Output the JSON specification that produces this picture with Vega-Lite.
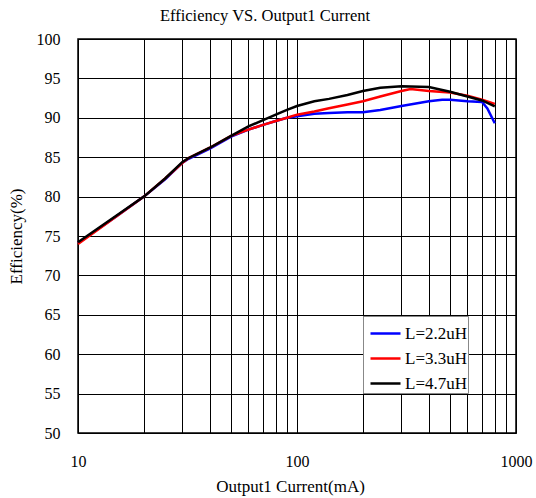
{
  "$schema": "https://vega.github.io/schema/vega-lite/v6.json",
  "width": 438,
  "height": 394,
  "autosize": {"type": "none"},
  "padding": {"left": 78, "top": 39, "right": 20, "bottom": 65},
  "background": "white",
  "title": {"text": "Efficiency VS. Output1 Current", "font": "Liberation Serif", "fontSize": 16.5, "fontWeight": "normal", "color": "black", "offset": 7, "dx": -32},
  "config": {
    "font": "Liberation Serif",
    "view": {"stroke": "black", "strokeWidth": 1.5},
    "axis": {"labelFont": "Liberation Serif", "titleFont": "Liberation Serif", "labelColor": "black", "titleColor": "black", "labelFontSize": 16, "titleFontSize": 17, "titleFontWeight": "normal", "gridColor": "black", "gridOpacity": 1, "gridWidth": 1, "domain": false, "ticks": false, "labelFlush": false},
    "axisX": {"labelFont": "Liberation Serif"},
    "axisY": {"labelFont": "Liberation Serif"},
    "axisQuantitative": {"labelFont": "Liberation Serif"}
  },
  "data": {"values": [
    {"current": 10, "eff": 74.1, "series": "L=2.2uH"},
    {"current": 15, "eff": 77.5, "series": "L=2.2uH"},
    {"current": 20, "eff": 80.0, "series": "L=2.2uH"},
    {"current": 25, "eff": 82.2, "series": "L=2.2uH"},
    {"current": 30, "eff": 84.3, "series": "L=2.2uH"},
    {"current": 32, "eff": 84.8, "series": "L=2.2uH"},
    {"current": 40, "eff": 86.1, "series": "L=2.2uH"},
    {"current": 50, "eff": 87.6, "series": "L=2.2uH"},
    {"current": 60, "eff": 88.5, "series": "L=2.2uH"},
    {"current": 70, "eff": 89.1, "series": "L=2.2uH"},
    {"current": 80, "eff": 89.6, "series": "L=2.2uH"},
    {"current": 90, "eff": 90.0, "series": "L=2.2uH"},
    {"current": 100, "eff": 90.2, "series": "L=2.2uH"},
    {"current": 120, "eff": 90.5, "series": "L=2.2uH"},
    {"current": 140, "eff": 90.6, "series": "L=2.2uH"},
    {"current": 170, "eff": 90.7, "series": "L=2.2uH"},
    {"current": 200, "eff": 90.7, "series": "L=2.2uH"},
    {"current": 240, "eff": 91.0, "series": "L=2.2uH"},
    {"current": 300, "eff": 91.5, "series": "L=2.2uH"},
    {"current": 400, "eff": 92.1, "series": "L=2.2uH"},
    {"current": 460, "eff": 92.3, "series": "L=2.2uH"},
    {"current": 500, "eff": 92.3, "series": "L=2.2uH"},
    {"current": 600, "eff": 92.1, "series": "L=2.2uH"},
    {"current": 700, "eff": 92.0, "series": "L=2.2uH"},
    {"current": 740, "eff": 91.2, "series": "L=2.2uH"},
    {"current": 800, "eff": 89.3, "series": "L=2.2uH"},
    {"current": 10, "eff": 74.0, "series": "L=3.3uH"},
    {"current": 15, "eff": 77.5, "series": "L=3.3uH"},
    {"current": 20, "eff": 80.0, "series": "L=3.3uH"},
    {"current": 25, "eff": 82.3, "series": "L=3.3uH"},
    {"current": 30, "eff": 84.3, "series": "L=3.3uH"},
    {"current": 32, "eff": 84.9, "series": "L=3.3uH"},
    {"current": 40, "eff": 86.2, "series": "L=3.3uH"},
    {"current": 50, "eff": 87.7, "series": "L=3.3uH"},
    {"current": 60, "eff": 88.5, "series": "L=3.3uH"},
    {"current": 70, "eff": 89.1, "series": "L=3.3uH"},
    {"current": 80, "eff": 89.6, "series": "L=3.3uH"},
    {"current": 90, "eff": 90.0, "series": "L=3.3uH"},
    {"current": 100, "eff": 90.4, "series": "L=3.3uH"},
    {"current": 120, "eff": 90.8, "series": "L=3.3uH"},
    {"current": 140, "eff": 91.2, "series": "L=3.3uH"},
    {"current": 170, "eff": 91.7, "series": "L=3.3uH"},
    {"current": 200, "eff": 92.1, "series": "L=3.3uH"},
    {"current": 240, "eff": 92.7, "series": "L=3.3uH"},
    {"current": 300, "eff": 93.4, "series": "L=3.3uH"},
    {"current": 330, "eff": 93.65, "series": "L=3.3uH"},
    {"current": 400, "eff": 93.4, "series": "L=3.3uH"},
    {"current": 500, "eff": 93.2, "series": "L=3.3uH"},
    {"current": 600, "eff": 92.8, "series": "L=3.3uH"},
    {"current": 700, "eff": 92.3, "series": "L=3.3uH"},
    {"current": 800, "eff": 91.75, "series": "L=3.3uH"},
    {"current": 10, "eff": 74.2, "series": "L=4.7uH"},
    {"current": 15, "eff": 77.6, "series": "L=4.7uH"},
    {"current": 20, "eff": 80.0, "series": "L=4.7uH"},
    {"current": 25, "eff": 82.3, "series": "L=4.7uH"},
    {"current": 30, "eff": 84.4, "series": "L=4.7uH"},
    {"current": 32, "eff": 84.9, "series": "L=4.7uH"},
    {"current": 40, "eff": 86.2, "series": "L=4.7uH"},
    {"current": 50, "eff": 87.7, "series": "L=4.7uH"},
    {"current": 60, "eff": 88.9, "series": "L=4.7uH"},
    {"current": 70, "eff": 89.7, "series": "L=4.7uH"},
    {"current": 80, "eff": 90.4, "series": "L=4.7uH"},
    {"current": 90, "eff": 91.0, "series": "L=4.7uH"},
    {"current": 100, "eff": 91.5, "series": "L=4.7uH"},
    {"current": 120, "eff": 92.1, "series": "L=4.7uH"},
    {"current": 140, "eff": 92.4, "series": "L=4.7uH"},
    {"current": 170, "eff": 92.9, "series": "L=4.7uH"},
    {"current": 200, "eff": 93.4, "series": "L=4.7uH"},
    {"current": 240, "eff": 93.8, "series": "L=4.7uH"},
    {"current": 300, "eff": 94.0, "series": "L=4.7uH"},
    {"current": 400, "eff": 93.9, "series": "L=4.7uH"},
    {"current": 500, "eff": 93.3, "series": "L=4.7uH"},
    {"current": 600, "eff": 92.7, "series": "L=4.7uH"},
    {"current": 700, "eff": 92.2, "series": "L=4.7uH"},
    {"current": 800, "eff": 91.45, "series": "L=4.7uH"}
  ]},
  "mark": {"type": "line", "strokeWidth": 2.5},
  "encoding": {
    "x": {
      "field": "current", "type": "quantitative",
      "scale": {"type": "log", "domain": [10, 1000], "nice": false},
      "axis": {
        "title": "Output1 Current(mA)",
        "values": [10, 20, 30, 40, 50, 60, 70, 80, 90, 100, 200, 300, 400, 500, 600, 700, 800, 900, 1000],
        "format": "d",
        "labelExpr": "indexof([10, 100, 1000], datum.value) >= 0 ? datum.label : ''",
        "labelOverlap": false,
        "labelFlush": false,
        "labelFont": "Liberation Serif",
        "labelPadding": 20,
        "titlePadding": 9,
        "titleX": 212
      }
    },
    "y": {
      "field": "eff", "type": "quantitative",
      "scale": {"domain": [50, 100], "nice": false, "zero": false},
      "axis": {
        "title": "Efficiency(%)",
        "values": [50, 55, 60, 65, 70, 75, 80, 85, 90, 95, 100],
        "labelFont": "Liberation Serif",
        "labelPadding": 18,
        "titlePadding": 11
      }
    },
    "color": {
      "field": "series", "type": "nominal",
      "scale": {"domain": ["L=2.2uH", "L=3.3uH", "L=4.7uH"], "range": ["#0000ff", "#ff0000", "#000000"]},
      "legend": {
        "title": null,
        "orient": "none",
        "legendX": 285,
        "legendY": 277,
        "symbolType": "stroke",
        "symbolSize": 900,
        "symbolStrokeWidth": 2.5,
        "symbolOffset": 5,
        "labelFont": "Liberation Serif",
        "labelFontSize": 17,
        "labelColor": "black",
        "labelOffset": 3,
        "rowPadding": -0.5,
        "padding": 1,
        "fillColor": "white",
        "strokeColor": "#888888"
      }
    }
  }
}
